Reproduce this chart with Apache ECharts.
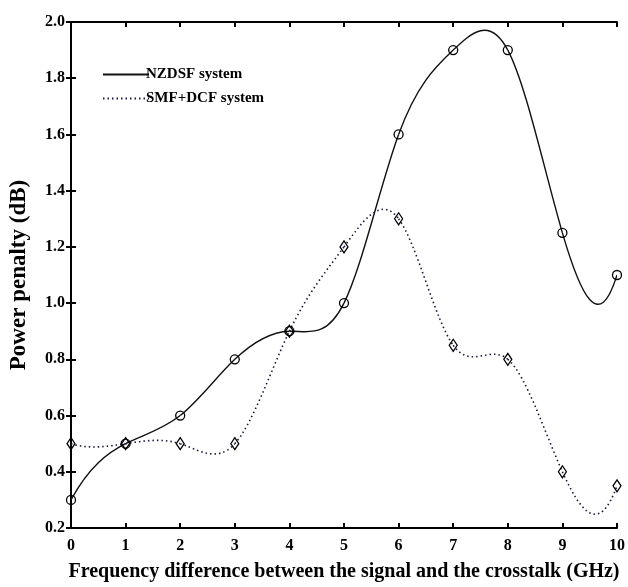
<!DOCTYPE html>
<html><head><meta charset="utf-8">
<script src="https://cdn.jsdelivr.net/npm/echarts@6/dist/echarts.min.js"></script>
<style>html,body{margin:0;padding:0;background:#fff}#c{width:628px;height:587px}</style>
</head><body><div id="c"></div>
<script>
const freq = [0,1,2,3,4,5,6,7,8,9,10];
const nzdsf = [0.3,0.5,0.6,0.8,0.9,1.0,1.6,1.9,1.9,1.25,1.1];
const smfdcf = [0.5,0.5,0.5,0.5,0.9,1.2,1.3,0.85,0.8,0.4,0.35];
const names = ['NZDSF system','SMF+DCF system'];
const xTitle = 'Frequency difference between the signal and the crosstalk (GHz)';
const yTitle = 'Power penalty (dB)';

const pair = (xs, ys) => xs.map((x,i)=>[x, ys[i]]);

// not-a-knot cubic spline: returns end slopes per interval (used only to draw the curve)
function splineSlopes(xs, ys){
  const n = xs.length - 1;
  const N = n + 1;
  const A = [], b = [];
  for (let i=0;i<N;i++){ A.push(new Array(N).fill(0)); b.push(0); }
  const h = i => xs[i+1]-xs[i];
  A[0][0] = h(1); A[0][1] = -(h(0)+h(1)); A[0][2] = h(0); b[0]=0;
  A[n][n-2] = h(n-1); A[n][n-1] = -(h(n-2)+h(n-1)); A[n][n] = h(n-2); b[n]=0;
  for (let i=1;i<n;i++){
    A[i][i-1] = h(i-1); A[i][i] = 2*(h(i-1)+h(i)); A[i][i+1] = h(i);
    b[i] = 6*((ys[i+1]-ys[i])/h(i) - (ys[i]-ys[i-1])/h(i-1));
  }
  for (let c=0;c<N;c++){
    let p=c; for (let r=c+1;r<N;r++) if (Math.abs(A[r][c])>Math.abs(A[p][c])) p=r;
    [A[c],A[p]]=[A[p],A[c]]; [b[c],b[p]]=[b[p],b[c]];
    for (let r=c+1;r<N;r++){ const f=A[r][c]/A[c][c]; for (let k=c;k<N;k++) A[r][k]-=f*A[c][k]; b[r]-=f*b[c]; }
  }
  const M = new Array(N).fill(0);
  for (let r=N-1;r>=0;r--){ let s=b[r]; for (let k=r+1;k<N;k++) s-=A[r][k]*M[k]; M[r]=s/A[r][r]; }
  const seg = [];
  for (let i=0;i<n;i++){
    const hi=h(i), d=(ys[i+1]-ys[i])/hi;
    seg.push({s0: d - hi*(2*M[i]+M[i+1])/6, s1: d + hi*(M[i]+2*M[i+1])/6});
  }
  return seg;
}

function splineSeries(xs, ys, lineStyle){
  const seg = splineSlopes(xs, ys);
  return {
    type:'custom', data: pair(xs, ys), silent:true, z:3, clip:true,
    renderItem(params, api){
      const i = params.dataIndex;
      if (i >= xs.length-1) return null;
      const h = xs[i+1]-xs[i];
      const p0 = api.coord([xs[i], ys[i]]);
      const c1 = api.coord([xs[i]+h/3, ys[i]+seg[i].s0*h/3]);
      const c2 = api.coord([xs[i+1]-h/3, ys[i+1]-seg[i].s1*h/3]);
      const p1 = api.coord([xs[i+1], ys[i+1]]);
      return {type:'bezierCurve',
        shape:{x1:p0[0],y1:p0[1],cpx1:c1[0],cpy1:c1[1],cpx2:c2[0],cpy2:c2[1],x2:p1[0],y2:p1[1]},
        style:Object.assign({fill:null}, lineStyle)};
    }
  };
}

const font = 'Liberation Serif';
const chart = echarts.init(document.getElementById('c'));
const axisCommon = {
  axisLine:{show:true,lineStyle:{color:'#000',width:2}},
  axisTick:{show:true,inside:true,length:5,lineStyle:{color:'#000',width:2}},
  splitLine:{show:false}
};
const solid = {stroke:'#111', lineWidth:1.4};
const dotted = {stroke:'#1a1a3a', lineWidth:1.6, lineDash:[1.5,3]};
chart.setOption({
  backgroundColor:'#fff',
  animation:false,
  grid:{left:68,right:10,top:22,bottom:59},
  legend:{
    data:names, orient:'vertical', left:97, top:62, itemWidth:46, itemHeight:10, itemGap:9,
    itemStyle:{opacity:0}, lineStyle:{opacity:1},
    textStyle:{fontFamily:font,fontWeight:'bold',fontSize:15,color:'#000',padding:[0,0,0,-8]}
  },
  xAxis:[
    Object.assign({type:'value',min:0,max:10,interval:1,position:'bottom',
      name:xTitle,nameLocation:'middle',nameGap:34,
      nameTextStyle:{fontFamily:font,fontWeight:'bold',fontSize:20,color:'#000'},
      axisLabel:{fontFamily:font,fontWeight:'bold',fontSize:16,color:'#000',margin:10}},axisCommon),
    Object.assign({type:'value',min:0,max:10,interval:1,position:'top',axisLabel:{show:false}},axisCommon)
  ],
  yAxis:[
    Object.assign({type:'value',min:0.2,max:2.0,interval:0.2,position:'left',
      name:yTitle,nameLocation:'middle',nameGap:40,
      nameTextStyle:{fontFamily:font,fontWeight:'bold',fontSize:23,color:'#000'},
      axisLabel:{fontFamily:font,fontWeight:'bold',fontSize:16,color:'#000',margin:6,
        formatter:v=>v.toFixed(1)}},axisCommon),
    Object.assign({type:'value',min:0.2,max:2.0,interval:0.2,position:'right',axisLabel:{show:false}},axisCommon)
  ],
  series:[
    {name:names[0],type:'line',data:pair(freq,nzdsf),symbol:'circle',symbolSize:9,
      lineStyle:{color:'#111',width:1.4,opacity:0},
      itemStyle:{color:'rgba(0,0,0,0)',borderColor:'#000',borderWidth:1.3},z:4},
    {name:names[1],type:'line',data:pair(freq,smfdcf),symbol:'diamond',symbolSize:[8,12],
      lineStyle:{color:'#1a1a3a',width:1.6,type:[1.5,3],opacity:0},
      itemStyle:{color:'rgba(0,0,0,0)',borderColor:'#000',borderWidth:1.3},z:4},
    splineSeries(freq, nzdsf, solid),
    splineSeries(freq, smfdcf, dotted)
  ]
});
</script></body></html>
